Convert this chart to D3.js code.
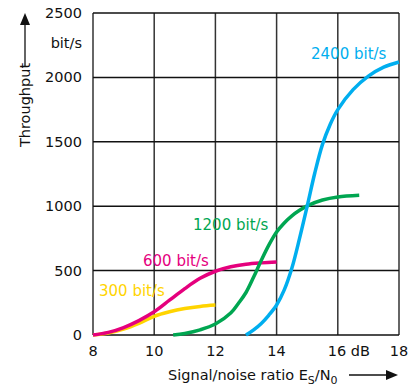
<!DOCTYPE html>
<html><head><meta charset="utf-8">
<script src="https://cdn.jsdelivr.net/npm/d3@7"></script>
<style>body{margin:0;background:#fff}svg{display:block}text{font-family:"DejaVu Sans",sans-serif}</style>
</head><body><svg id="c" width="409" height="386"></svg>
<script>
const xTicks = [8, 10, 12, 14, 16, 18];
const xTickLabels = ["8", "10", "12", "14", "16 dB", "18"];
const yTicks = [0, 500, 1000, 1500, 2000, 2500];
const seriesNames = ["300 bit/s", "600 bit/s", "1200 bit/s", "2400 bit/s"];
const seriesColors = ["#ffd400", "#e5007d", "#00a651", "#00aeef"];
const snr300 = [8, 8.5, 9, 9.5, 10, 10.5, 11, 11.5, 12];
const thr300 = [0, 15, 45, 90, 145, 180, 205, 222, 232];
const snr600 = [8, 8.5, 9, 9.5, 10, 10.5, 11, 11.5, 12, 12.5, 13, 13.5, 14];
const thr600 = [0, 20, 58, 112, 180, 270, 360, 440, 495, 530, 550, 560, 566];
const snr1200 = [10.62, 11, 11.5, 12, 12.5, 12.75, 13, 13.25, 13.5, 13.75, 14, 14.25, 14.5, 14.75, 15, 15.5, 16, 16.7];
const thr1200 = [0, 12, 40, 85, 170, 245, 330, 450, 580, 700, 800, 870, 925, 968, 1003, 1048, 1072, 1085];
const snr2400 = [13, 13.25, 13.5, 13.75, 14, 14.25, 14.5, 14.75, 15, 15.25, 15.5, 15.75, 16, 16.5, 17, 17.5, 18];
const thr2400 = [0, 40, 90, 155, 233, 350, 520, 750, 1000, 1260, 1480, 1635, 1750, 1905, 2010, 2080, 2120];

const svg = d3.select("#c");
const x = d3.scaleLinear().domain([8, 18]).range([93, 399]);
const y = d3.scaleLinear().domain([0, 2500]).range([335, 13]);
const fs = 14.5;

// grid
svg.append("g").selectAll("line").data(xTicks).join("line")
  .attr("x1", d => x(d)).attr("x2", d => x(d)).attr("y1", y(0)).attr("y2", y(2500))
  .attr("stroke", "#333").attr("stroke-width", 1.5);
svg.append("g").selectAll("line").data(yTicks).join("line")
  .attr("x1", x(8)).attr("x2", x(18)).attr("y1", d => y(d)).attr("y2", d => y(d))
  .attr("stroke", "#111").attr("stroke-width", 1.5);

// y tick labels
svg.append("g").selectAll("text").data(yTicks).join("text")
  .attr("x", 82).attr("y", d => y(d) + 5).attr("text-anchor", "end")
  .attr("font-size", fs).attr("fill", "#111").text(d => d);
svg.append("text").attr("x", 82).attr("y", 48).attr("text-anchor", "end")
  .attr("font-size", fs).attr("fill", "#111").text("bit/s");

// x tick labels
svg.append("g").selectAll("text").data(xTicks).join("text")
  .attr("x", d => x(d)).attr("y", 356).attr("text-anchor", (d, i) => i === 4 ? "start" : "middle")
  .attr("dx", (d, i) => i === 4 ? -10 : 0)
  .attr("font-size", fs).attr("fill", "#111").text((d, i) => xTickLabels[i]);

// x title
const xt = svg.append("text").attr("x", 168).attr("y", 380).attr("font-size", fs).attr("fill", "#111");
xt.append("tspan").text("Signal/noise ratio E");
xt.append("tspan").attr("font-size", 11).attr("dy", 4).text("S");
xt.append("tspan").attr("dy", -4).text("/N");
xt.append("tspan").attr("font-size", 11).attr("dy", 4).text("0");
svg.append("line").attr("x1", 349).attr("x2", 390).attr("y1", 375).attr("y2", 375).attr("stroke", "#111").attr("stroke-width", 1.3);
svg.append("path").attr("d", "M398,375 L386,370 L386,380 Z").attr("fill", "#111");

// y title
svg.append("text").attr("transform", "translate(30,105) rotate(-90)").attr("text-anchor", "middle")
  .attr("font-size", fs).attr("fill", "#111").text("Throughput");
svg.append("line").attr("x1", 25).attr("x2", 25).attr("y1", 66).attr("y2", 22).attr("stroke", "#111").attr("stroke-width", 1.3);
svg.append("path").attr("d", "M25,13 L20,25 L30,25 Z").attr("fill", "#111");

// curves
const data = [
  snr300.map((s, i) => [s, thr300[i]]),
  snr600.map((s, i) => [s, thr600[i]]),
  snr1200.map((s, i) => [s, thr1200[i]]),
  snr2400.map((s, i) => [s, thr2400[i]])
];
const line = d3.line().x(d => x(d[0])).y(d => y(d[1])).curve(d3.curveCatmullRom.alpha(0.5));
svg.append("g").selectAll("path").data(data).join("path")
  .attr("d", line).attr("fill", "none").attr("stroke", (d, i) => seriesColors[i])
  .attr("stroke-width", 3.5).attr("stroke-linecap", "butt");

// series labels
const labelPos = [[99, 296], [143, 266], [193, 230], [311, 59]];
svg.append("g").selectAll("text").data(seriesNames).join("text")
  .attr("x", (d, i) => labelPos[i][0]).attr("y", (d, i) => labelPos[i][1])
  .attr("font-size", 15).attr("fill", (d, i) => seriesColors[i]).text(d => d);
</script></body></html>
